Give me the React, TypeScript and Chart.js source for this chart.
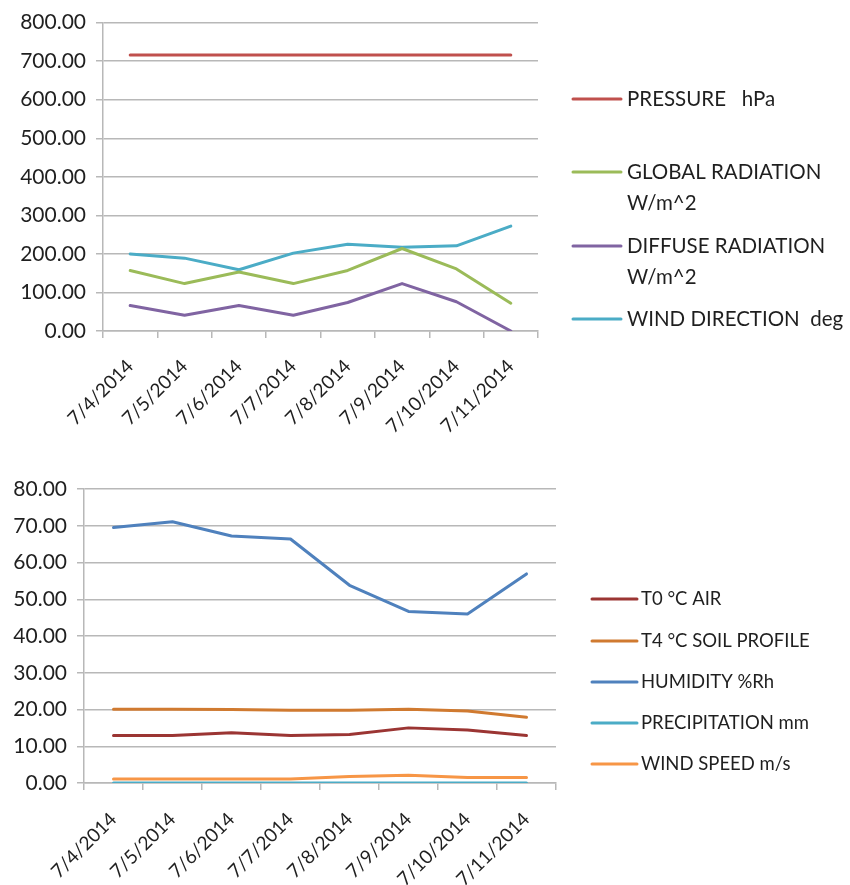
import React, { useEffect, useRef } from 'react';
import { Chart, registerables } from 'chart.js';

Chart.register(...registerables);

// ---------- data ----------
const DATES = ['7/4/2014', '7/5/2014', '7/6/2014', '7/7/2014', '7/8/2014', '7/9/2014', '7/10/2014', '7/11/2014'];

const PRESSURE = [716, 716, 716, 716, 716, 716, 716, 716];
const GLOBAL_RADIATION = [157, 123, 153, 123, 157, 214, 161, 72];
const DIFFUSE_RADIATION = [66, 41, 66, 41, 74, 123, 76, 0];
const WIND_DIRECTION = [200, 189, 159, 202, 225, 217, 221, 272];

const TOP_NAMES = [['PRESSURE   hPa'], ['GLOBAL RADIATION', 'W/m^2'], ['DIFFUSE RADIATION', 'W/m^2'], ['WIND DIRECTION  deg']];
const TOP_MAX = 800;
const TOP_STEP = 100;

const T0_AIR = [12.9, 12.9, 13.7, 12.9, 13.2, 15.0, 14.4, 12.9];
const T4_SOIL = [20.1, 20.1, 20.0, 19.8, 19.8, 20.1, 19.6, 17.9];
const HUMIDITY = [69.5, 71.1, 67.2, 66.4, 53.8, 46.7, 46.0, 56.9];
const PRECIPITATION = [0, 0, 0, 0, 0, 0, 0, 0];
const WIND_SPEED = [1.1, 1.1, 1.1, 1.1, 1.8, 2.1, 1.5, 1.5];

const BOTTOM_NAMES = [['T0 °C AIR'], ['T4 °C SOIL PROFILE'], ['HUMIDITY %Rh'], ['PRECIPITATION mm'], ['WIND SPEED m/s']];
const BOTTOM_MAX = 80;
const BOTTOM_STEP = 10;

// ---------- styles ----------
const FONT_FAMILY = 'Lato, "Open Sans", sans-serif';
const TEXT_COLOR = '#1f1f1f';
const GRID_COLOR = '#b8b8b8';

const sideLegend = {
  id: 'sideLegend',
  afterDraw(chart: any, _args: any, opts: any) {
    const ctx = chart.ctx;
    const area = chart.chartArea;
    ctx.save();
    chart.data.datasets.forEach((ds: any, i: number) => {
      const y = opts.rows[i];
      const x0 = area.right + opts.lineOffset;
      ctx.strokeStyle = ds.borderColor;
      ctx.lineWidth = 3;
      ctx.lineCap = 'round';
      ctx.beginPath();
      ctx.moveTo(x0, y);
      ctx.lineTo(x0 + opts.lineLen, y);
      ctx.stroke();
      ctx.fillStyle = TEXT_COLOR;
      ctx.font = opts.font;
      ctx.textBaseline = 'middle';
      ctx.textAlign = 'left';
      const lines: string[] = opts.names[i];
      lines.forEach((ln, k) => {
        ctx.fillText(ln, x0 + opts.lineLen + opts.textGap, y + k * opts.lineGap);
      });
    });
    ctx.restore();
  },
};

function makeConfig(cfg: any) {
  const yFont = { family: FONT_FAMILY, size: cfg.fontSize };
  const xFont = { family: FONT_FAMILY, size: cfg.xFontSize };
  return {
    type: 'line',
    data: {
      labels: DATES,
      datasets: cfg.series.map((s: any) => ({
        label: s.name,
        data: s.data,
        borderColor: s.color,
        backgroundColor: s.color,
        borderWidth: 3,
        pointRadius: 0,
        tension: 0,
        fill: false,
        borderCapStyle: 'round',
        borderJoinStyle: 'round',
      })),
    },
    options: {
      responsive: false,
      maintainAspectRatio: false,
      animation: false,
      layout: { padding: { left: 0, top: cfg.top, right: cfg.width - cfg.right, bottom: 0 } },
      plugins: {
        legend: { display: false },
        tooltip: { enabled: false },
        sideLegend: cfg.legend,
      },
      scales: {
        x: {
          type: 'category',
          offset: true,
          grid: { display: true, drawOnChartArea: false, drawTicks: true, tickLength: 7, color: GRID_COLOR, lineWidth: 1.5, offset: true },
          border: { display: true, color: GRID_COLOR, width: 1.5 },
          ticks: { autoSkip: false, minRotation: 45, maxRotation: 45, font: xFont, color: TEXT_COLOR, padding: cfg.xPad },
          afterFit: (s: any) => { s.height = cfg.height - cfg.bottom; },
        },
        y: {
          min: 0,
          max: cfg.max,
          ticks: { stepSize: cfg.step, font: yFont, color: TEXT_COLOR, padding: 10, callback: (v: any) => Number(v).toFixed(2) },
          grid: { color: GRID_COLOR, lineWidth: 1.5, tickLength: 7, drawTicks: true },
          border: { display: true, color: GRID_COLOR, width: 1.5 },
          afterFit: (s: any) => { s.width = cfg.left; },
        },
      },
    },
    plugins: [sideLegend],
  };
}

function LineChart({ cfg, style }: { cfg: any; style: React.CSSProperties }) {
  const ref = useRef<HTMLCanvasElement | null>(null);
  useEffect(() => {
    if (!ref.current) return;
    const chart = new Chart(ref.current, makeConfig(cfg) as any);
    return () => chart.destroy();
  }, []);
  return <canvas ref={ref} width={cfg.width} height={cfg.height} style={{ position: 'absolute', ...style }} />;
}

const TOP_CFG = {
  width: 850, height: 440, left: 103, right: 538, top: 17, bottom: 331,
  max: TOP_MAX, step: TOP_STEP, fontSize: 21, xFontSize: 19, xPad: 17,
  series: [
    { name: TOP_NAMES[0].join(' '), data: PRESSURE, color: '#C0504D' },
    { name: TOP_NAMES[1].join(' '), data: GLOBAL_RADIATION, color: '#9BBB59' },
    { name: TOP_NAMES[2].join(' '), data: DIFFUSE_RADIATION, color: '#8064A2' },
    { name: TOP_NAMES[3].join(' '), data: WIND_DIRECTION, color: '#4BACC6' },
  ],
  legend: {
    names: TOP_NAMES, rows: [99, 172, 246, 319], lineOffset: 35, lineLen: 48, textGap: 6, lineGap: 31,
    font: `20.5px ${FONT_FAMILY}`,
  },
};

const BOTTOM_CFG = {
  width: 850, height: 435, left: 84, right: 556, top: 39, bottom: 333,
  max: BOTTOM_MAX, step: BOTTOM_STEP, fontSize: 21, xFontSize: 19, xPad: 18,
  series: [
    { name: BOTTOM_NAMES[0][0], data: T0_AIR, color: '#9B3533' },
    { name: BOTTOM_NAMES[1][0], data: T4_SOIL, color: '#D07A30' },
    { name: BOTTOM_NAMES[2][0], data: HUMIDITY, color: '#4F81BD' },
    { name: BOTTOM_NAMES[3][0], data: PRECIPITATION, color: '#4BACC6' },
    { name: BOTTOM_NAMES[4][0], data: WIND_SPEED, color: '#F79646' },
  ],
  legend: {
    names: BOTTOM_NAMES, rows: [149, 191, 232, 273, 314], lineOffset: 36, lineLen: 45, textGap: 4, lineGap: 30,
    font: `18.5px ${FONT_FAMILY}`,
  },
};

export default function App() {
  useEffect(() => {
    document.body.style.margin = '0';
  }, []);
  return (
    <div style={{ position: 'relative', width: 850, height: 885, background: '#ffffff' }}>
      <LineChart cfg={TOP_CFG} style={{ left: 0, top: 0 }} />
      <LineChart cfg={BOTTOM_CFG} style={{ left: 0, top: 450 }} />
    </div>
  );
}
